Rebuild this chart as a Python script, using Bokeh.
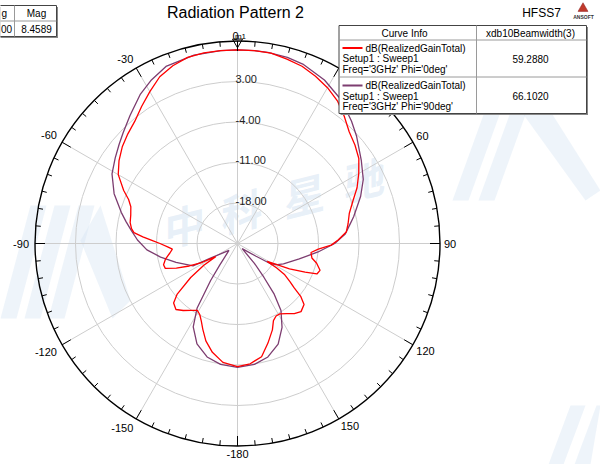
import math
from bokeh.plotting import figure
from bokeh.models import Range1d
from bokeh.core.properties import value
from bokeh.embed import file_html
from bokeh.resources import INLINE

# ---------------- data ----------------
RADIAL_MIN = -25.0
RADIAL_MAX = 10.0
RING_DB = [-18.0, -11.0, -4.0, 3.0]
RING_LABELS = ["-18.00", "-11.00", "-4.00", "3.00"]

ANGLE_LABEL_DEG = [0, 30, 60, 90, 120, 150, 180, -150, -120, -90, -60, -30]
ANGLE_LABELS = ["0", "30", "60", "90", "120", "150", "-180", "-150", "-120", "-90", "-60", "-30"]

# dB(RealizedGainTotal), Phi = 0deg
THETA_PHI0 = [-180, -173, -167, -162, -158, -155, -152, -149, -145, -141, -137, -133, -130,
              -126, -123, -121, -118, -115, -112, -109, -106, -102, -98, -95, -93, -90, -88,
              -86, -84, -82, -79, -75, -71, -68, -65, -60, -55, -50, -45, -40, -35, -30, -25,
              -20, -15, -10, -5, 0, 5, 10, 15, 20, 25, 30, 35, 40, 45, 50, 55, 60, 65, 70,
              75, 80, 84, 88, 91, 94, 97, 101, 104, 108, 111, 113, 116, 118, 121, 122, 123.5,
              126, 128, 130, 132.5, 137, 141, 145, 149, 152, 155, 158, 163, 168, 174, 180]
GAIN_PHI0 = [-3.7, -4.3, -5.7, -7.3, -9.0, -10.2, -11.1, -11.5, -10.9, -10.1, -9.4, -9.9, -11.4,
             -15.0, -18.0, -20.6, -18.0, -15.8, -13.6, -11.8, -11.7, -12.3, -13.2, -13.7, -13.0,
             -11.6, -10.3, -8.6, -7.0, -6.5, -6.1, -5.9, -5.5, -4.7, -3.3, -1.2, 0.0, 1.0, 1.8,
             2.6, 3.9, 5.3, 6.8, 7.7, 8.3, 8.45, 8.46, 8.46, 8.45, 8.4, 8.0, 7.6, 6.9, 6.1, 5.1,
             3.7, 2.3, 1.5, 0.6, -0.8, -2.2, -3.8, -5.0, -5.6, -6.1, -7.6, -8.8, -11.0, -12.2,
             -11.9, -10.9, -10.0, -10.3, -12.3, -15.0, -17.0, -19.0, -17.0, -15.2, -13.8, -12.6,
             -10.7, -9.4, -8.9, -9.4, -10.2, -10.8, -10.8, -10.3, -8.9, -7.0, -5.0, -4.1, -3.7]

# dB(RealizedGainTotal), Phi = 90deg
THETA_PHI90 = [-180, -172, -165, -158, -152, -148, -144, -140.7, -129, -118.5, -116.7, -107,
               -100, -94, -88, -83, -79, -75, -68, -61, -55, -50, -46, -40, -33, -28, -22, -13,
               -5, 0, 5, 9, 15, 20, 28, 36, 43, 48, 56, 63, 69, 73, 77, 80, 85, 90, 96, 104,
               114, 118, 121.5, 124.5, 138, 139.5, 142, 144, 147, 152, 158, 165, 172, 180]
GAIN_PHI90 = [-3.6, -3.9, -4.7, -6.3, -8.7, -11.8, -17.1, -20.1, -23.1, -19.8, -16.4, -13.9,
              -11.5, -9.3, -7.7, -6.5, -5.4, -4.2, -2.0, -0.2, 0.8, 1.7, 2.5, 3.9, 5.8, 6.9, 8.0,
              8.4, 8.46, 8.46, 8.46, 8.45, 8.3, 8.0, 7.0, 5.6, 3.9, 2.7, 0.8, -0.6, -2.2, -3.4,
              -4.4, -5.2, -6.3, -8.2, -11.0, -14.0, -16.3, -17.2, -18.3, -21.1, -23.8, -20.5,
              -17.6, -14.3, -11.2, -8.6, -6.25, -4.7, -3.9, -3.6]

CURVE_NAME = "dB(RealizedGainTotal)"
CURVE_SETUP = "Setup1 : Sweep1"
CURVE_FREQ = ["Freq='3GHz' Phi='0deg'", "Freq='3GHz' Phi='90deg'"]
BEAMWIDTH = ["59.2880", "66.1020"]
# marker table: only the right part is visible in the reference
MARKER_HEAD = ["g", "Mag"]
MARKER_ROW = ["00", "8.4589"]

# ---------------- layout helpers ----------------
W, H = 600, 464
OFFSET = 0
CX, CY, RPX = 237.0, 243.0, 202.5   # page pixels of the polar centre and outer radius

def px2x(px):
    return (px - CX) / RPX

def py2y(py):
    return (CY - py) / RPX

def polar(theta_deg, db):
    r = (db - RADIAL_MIN) / (RADIAL_MAX - RADIAL_MIN)
    a = math.radians(theta_deg)
    return r * math.sin(a), r * math.cos(a)

FONT = value("Liberation Sans")
RED = "#ff0000"
PURPLE = "#7d3d70"
GRID = "#cdcdcd"

p = figure(width=W, height=H, output_backend="svg", toolbar_location=None,
           x_range=Range1d(px2x(OFFSET), px2x(OFFSET + W)),
           y_range=Range1d(py2y(OFFSET + H), py2y(OFFSET)),
           min_border=0, background_fill_color="white", border_fill_color="white")
p.axis.visible = False
p.grid.visible = False
p.outline_line_color = None

# ---------------- watermark ----------------
wm_bands = [
    [(0, 318), (30, 205), (46, 205), (16, 318)],
    [(24, 318), (54, 205), (70, 205), (40, 318)],
    [(48, 318), (78, 205), (94, 205), (64, 318)],
    [(80, 240), (100, 205), (130, 300), (112, 318)],
    [(452, 200), (490, 95), (506, 95), (468, 200)],
    [(478, 200), (516, 95), (532, 95), (494, 200)],
    [(520, 110), (540, 95), (600, 190), (585, 200)],
    [(548, 464), (570, 405), (585, 405), (563, 464)],
    [(574, 464), (596, 405), (600, 405), (590, 464)],
]
p.patches([[px2x(a) for a, b in poly] for poly in wm_bands],
          [[py2y(b) for a, b in poly] for poly in wm_bands],
          fill_color="#d5e3f3", fill_alpha=0.4, line_color=None)
wm_chars = ["中", "科", "星", "驰"]
wm_pos = [(180, 224), (237, 210), (300, 194), (360, 178)]
p.text([px2x(a) for a, b in wm_pos], [py2y(b) for a, b in wm_pos], text=wm_chars,
       angle=math.radians(14), text_font=value("Noto Sans CJK SC"), text_font_size="42px",
       text_font_style="bold italic", text_color="#c3d8ee", text_alpha=0.4,
       text_align="center", text_baseline="middle")

# ---------------- polar grid ----------------
ring_r = [(d - RADIAL_MIN) / (RADIAL_MAX - RADIAL_MIN) for d in RING_DB]
p.circle(x=[0] * len(ring_r), y=[0] * len(ring_r), radius=ring_r,
         fill_color=None, line_color=GRID, line_width=1)
spokes = list(range(0, 360, 30))
p.segment(x0=[0] * len(spokes), y0=[0] * len(spokes),
          x1=[math.sin(math.radians(a)) for a in spokes],
          y1=[math.cos(math.radians(a)) for a in spokes],
          line_color=GRID, line_width=1)

# ring labels
p.text([px2x(235)] * len(ring_r), [r + 2.5 / RPX for r in ring_r], text=RING_LABELS,
       text_font=FONT, text_font_size="11px", text_color="#222222",
       text_align="left", text_baseline="middle")

# ---------------- curves ----------------
xs90, ys90 = zip(*[polar(t, g) for t, g in zip(THETA_PHI90, GAIN_PHI90)])
p.line(list(xs90), list(ys90), line_color=PURPLE, line_width=1.3)
xs0, ys0 = zip(*[polar(t, g) for t, g in zip(THETA_PHI0, GAIN_PHI0)])
p.line(list(xs0), list(ys0), line_color=RED, line_width=1.3)

# ---------------- outer circle and ticks ----------------
p.circle(x=[0], y=[0], radius=[1.0], fill_color=None, line_color="black", line_width=1.4)
tick_deg = list(range(0, 360, 5))
tick_len = [(10.0 if d % 30 == 0 else 5.0) / RPX for d in tick_deg]
p.segment(x0=[math.sin(math.radians(d)) for d in tick_deg],
          y0=[math.cos(math.radians(d)) for d in tick_deg],
          x1=[(1 - l) * math.sin(math.radians(d)) for d, l in zip(tick_deg, tick_len)],
          y1=[(1 - l) * math.cos(math.radians(d)) for d, l in zip(tick_deg, tick_len)],
          line_color="black", line_width=1)

# angle labels
for deg, lab in zip(ANGLE_LABEL_DEG, ANGLE_LABELS):
    a = math.radians(deg)
    s, c = math.sin(a), math.cos(a)
    gap = (6.0 if s < -0.01 else 4.0) / RPX
    x = (1 + gap) * s
    y = (1 + gap) * c
    if abs(s) < 0.01:
        align = "center"
    elif s < 0:
        align = "right"
    else:
        align = "left"
    if abs(c) < 0.01:
        base = "middle"
    elif c > 0:
        base = "bottom"
    else:
        base = "top"
    if deg == 0:
        y = py2y(35)
        base = "middle"
        x = px2x(235)
    p.text([x], [y], text=[lab], text_font=FONT, text_font_size="11px",
           text_color="black", text_align=align, text_baseline=base)

# marker m1 at max
p.scatter([0], [py2y(41.5)], marker="inverted_triangle", size=10,
          fill_color=None, line_color="black", line_width=1)
p.text([px2x(240)], [py2y(36)], text=["m1"], text_font=FONT, text_font_size="8px",
       text_color="black", text_align="center", text_baseline="middle")

# ---------------- title and logo ----------------
p.text([px2x(235)], [py2y(12)], text=["Radiation Pattern 2"], text_font=FONT,
       text_font_size="16px", text_color="black", text_align="center", text_baseline="middle")
p.text([px2x(541)], [py2y(12)], text=["HFSS7"], text_font=FONT, text_font_size="12px",
       text_color="black", text_align="center", text_baseline="middle")
p.scatter([px2x(582.5)], [py2y(8)], marker="triangle", size=10,
          fill_color="#c0392b", line_color="#8b1a1a", line_width=0.5)
p.text([px2x(583)], [py2y(16)], text=["ANSOFT"], text_font=FONT, text_font_size="5px",
       text_font_style="bold", text_color="#333333", text_align="center", text_baseline="middle")

# ---------------- marker table (top left) ----------------
p.quad(left=[px2x(-40) + 1.5 / RPX], right=[px2x(56) + 1.5 / RPX],
       top=[py2y(5) - 1.5 / RPX], bottom=[py2y(36) - 1.5 / RPX],
       fill_color="#888888", line_color=None)
p.quad(left=[px2x(-40)], right=[px2x(56)], top=[py2y(5)], bottom=[py2y(36)],
       fill_color="white", line_color="#444444", line_width=1)
p.segment(x0=[px2x(-40), px2x(14)], y0=[py2y(20.5), py2y(5)],
          x1=[px2x(56), px2x(14)], y1=[py2y(20.5), py2y(36)],
          line_color="#999999", line_width=1)
p.text([px2x(1)], [py2y(13)], text=[MARKER_HEAD[0]], text_font=FONT,
       text_font_size="10px", text_color="black", text_align="left", text_baseline="middle")
p.text([px2x(36)], [py2y(13)], text=[MARKER_HEAD[1]], text_font=FONT,
       text_font_size="10px", text_color="black", text_align="center", text_baseline="middle")
p.text([px2x(0.5)], [py2y(28.5)], text=[MARKER_ROW[0]], text_font=FONT,
       text_font_size="10px", text_color="black", text_align="left", text_baseline="middle")
p.text([px2x(36)], [py2y(28.5)], text=[MARKER_ROW[1]], text_font=FONT,
       text_font_size="10px", text_color="black", text_align="center", text_baseline="middle")

# ---------------- curve info table ----------------
L, R, T, B = 338.5, 586.0, 25.0, 113.0
p.quad(left=[px2x(L) + 1.5 / RPX], right=[px2x(R) + 1.5 / RPX],
       top=[py2y(T) - 1.5 / RPX], bottom=[py2y(B) - 1.5 / RPX],
       fill_color="#888888", line_color=None)
p.quad(left=[px2x(L)], right=[px2x(R)], top=[py2y(T)], bottom=[py2y(B)],
       fill_color="white", line_color="#444444", line_width=1)
p.segment(x0=[px2x(L), px2x(L), px2x(476)], y0=[py2y(39.5), py2y(76.5), py2y(T)],
          x1=[px2x(R), px2x(R), px2x(476)], y1=[py2y(39.5), py2y(76.5), py2y(B)],
          line_color="#9a9a9a", line_width=1)
p.text([px2x(404), px2x(530)], [py2y(32.5), py2y(32.5)],
       text=["Curve Info", "xdb10Beamwidth(3)"], text_font=FONT, text_font_size="10px",
       text_color="black", text_align="center", text_baseline="middle")
row_top = [47.5, 85.0]
for i, col in enumerate([RED, PURPLE]):
    y0 = row_top[i]
    p.segment(x0=[px2x(342)], y0=[py2y(y0)], x1=[px2x(362)], y1=[py2y(y0)],
              line_color=col, line_width=2)
    p.text([px2x(365)], [py2y(y0)], text=[CURVE_NAME], text_font=FONT, text_font_size="10px",
           text_color="black", text_align="left", text_baseline="middle")
    p.text([px2x(342), px2x(342)], [py2y(y0 + 10.8), py2y(y0 + 21.0)],
           text=[CURVE_SETUP, CURVE_FREQ[i]], text_font=FONT, text_font_size="10px",
           text_color="black", text_align="left", text_baseline="middle")
    p.text([px2x(530)], [py2y(y0 + 10.8)], text=[BEAMWIDTH[i]], text_font=FONT,
           text_font_size="10px", text_color="black", text_align="center", text_baseline="middle")

open("out.html", "w").write(file_html(p, INLINE))
